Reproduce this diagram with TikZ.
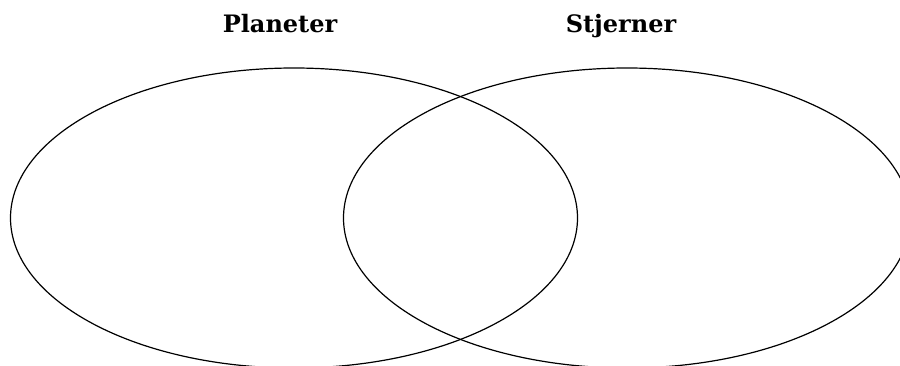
\documentclass[tikz,border=0pt]{standalone}
\usepackage{fontspec}
\setmainfont{DejaVu Serif}
\usetikzlibrary{shapes.geometric}
\tikzset{
  setshape/.style={draw=black, line width=1.2pt, ellipse, minimum width=567pt, minimum height=300pt, inner sep=0pt},
  settitle/.style={font=\fontsize{24}{28}\selectfont\bfseries, inner sep=0pt, anchor=base}
}
\begin{document}
\begin{tikzpicture}[x=1pt,y=1pt]
\useasboundingbox (0,0) rectangle (900,365);
\begin{scope}
\clip (0,0) rectangle (900,365);
\node[setshape] (planets) at (294,147) {};
\node[setshape] (stars) at (627,147) {};
\end{scope}
\node[settitle] (tplanets) at (280,332) {Planeter};
\node[settitle] (tstars) at (621,332) {Stjerner};
\end{tikzpicture}
\end{document}
